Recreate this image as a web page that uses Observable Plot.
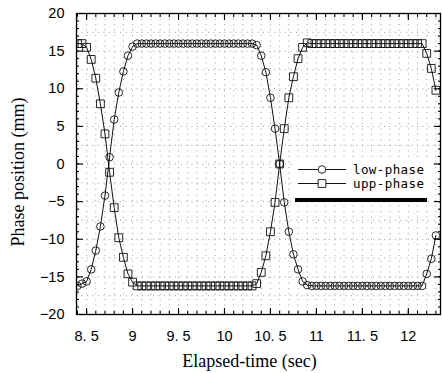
<!DOCTYPE html>
<html><head><meta charset="utf-8">
<script src="https://cdn.jsdelivr.net/npm/d3@7"></script>
<script src="https://cdn.jsdelivr.net/npm/@observablehq/plot@0.6"></script>
<style>
body{margin:0;background:#fff;}
</style></head><body><div id="chart"></div>
<script>
// ---- data ----
const time = [8.40,8.45,8.50,8.55,8.60,8.65,8.70,8.75,8.80,8.85,8.90,8.95,9.00,9.05,9.10,9.15,9.20,9.25,9.30,9.35,9.40,9.45,9.50,9.55,9.60,9.65,9.70,9.75,9.80,9.85,9.90,9.95,10.00,10.05,10.10,10.15,10.20,10.25,10.30,10.35,10.40,10.45,10.50,10.55,10.60,10.65,10.70,10.75,10.80,10.85,10.90,10.95,11.00,11.05,11.10,11.15,11.20,11.25,11.30,11.35,11.40,11.45,11.50,11.55,11.60,11.65,11.70,11.75,11.80,11.85,11.90,11.95,12.00,12.05,12.10,12.15,12.20,12.25,12.30];
const lowPhase = [-16.2,-15.9,-15.6,-14.0,-11.5,-8.3,-4.2,0.9,5.9,9.5,12.3,14.4,15.6,16.0,
  16.0,16.0,16.0,16.0,16.0,16.0,16.0,16.0,16.0,16.0,16.0,16.0,16.0,16.0,16.0,16.0,16.0,16.0,16.0,16.0,16.0,16.0,16.0,16.0,16.0,
  15.8,14.4,12.2,8.8,4.7,0.0,-5.1,-9.0,-12.0,-14.0,-15.6,-16.1,
  -16.2,-16.2,-16.2,-16.2,-16.2,-16.2,-16.2,-16.2,-16.2,-16.2,-16.2,-16.2,-16.2,-16.2,-16.2,-16.2,-16.2,-16.2,-16.2,-16.2,-16.2,-16.2,-16.2,-16.2,-16.2,
  -14.6,-12.6,-9.5];
const uppPhase = [16.0,16.0,15.5,13.9,11.4,8.0,4.0,-1.1,-5.8,-9.8,-12.4,-14.6,-15.7,-16.2,
  -16.2,-16.2,-16.2,-16.2,-16.2,-16.2,-16.2,-16.2,-16.2,-16.2,-16.2,-16.2,-16.2,-16.2,-16.2,-16.2,-16.2,-16.2,-16.2,-16.2,-16.2,-16.2,-16.2,-16.2,-16.2,
  -15.9,-14.4,-12.2,-9.0,-5.1,0.0,4.7,8.8,11.6,14.0,15.5,16.1,
  16.0,16.0,16.0,16.0,16.0,16.0,16.0,16.0,16.0,16.0,16.0,16.0,16.0,16.0,16.0,16.0,16.0,16.0,16.0,16.0,16.0,16.0,16.0,16.0,16.0,
  14.7,12.7,9.8];
const seriesNames = ["low-phase", "upp-phase"];
const xTickLabels = [8.5, 9, 9.5, 10, 10.5, 11, 11.5, 12];
const xMinorTicks = [8.4,8.5,8.6,8.7,8.8,8.9,9.0,9.1,9.2,9.3,9.4,9.5,9.6,9.7,9.8,9.9,10.0,10.1,10.2,10.3,10.4,10.5,10.6,10.7,10.8,10.9,11.0,11.1,11.2,11.3,11.4,11.5,11.6,11.7,11.8,11.9,12.0,12.1,12.2,12.3];
const yTickLabels = [-20,-15,-10,-5,0,5,10,15,20];
const yMinorTicks = [-19,-18,-17,-16,-15,-14,-13,-12,-11,-10,-9,-8,-7,-6,-5,-4,-3,-2,-1,0,1,2,3,4,5,6,7,8,9,10,11,12,13,14,15,16,17,18,19];
const yGrid = [-17.5,-15,-12.5,-10,-7.5,-5,-2.5,0,2.5,5,7.5,10,12.5,15,17.5];
const xTitle = "Elapsed-time (sec)";
const yTitle = "Phase position (mm)";

// ---- build table ----
const rows = [];
time.forEach((t, i) => {
  rows.push({t, v: lowPhase[i], s: seriesNames[0]});
  rows.push({t, v: uppPhase[i], s: seriesNames[1]});
});
const lowRows = rows.filter(d => d.s === seriesNames[0]);
const uppRows = rows.filter(d => d.s === seriesNames[1]);

const fmtX = d => Number.isInteger(d) ? String(d) : String(d).replace(".", ". ");
const fmtY = d => d < 0 ? "\u2212" + Math.abs(d) : String(d);
const blank = () => "";
const INK = "#111";
const tickStyle = {stroke: "#000", strokeWidth: 1.1, label: null, tickFormat: blank};
const sans = "Liberation Sans, Arial, sans-serif";
const serif = "Liberation Serif, Times New Roman, serif";
const gridStyle = {stroke: "#8a8a8a", strokeOpacity: 0.85, strokeWidth: 1, strokeDasharray: "1,4.5"};

const plot = Plot.plot({
  width: 442, height: 373,
  marginLeft: 76, marginRight: 2, marginTop: 13, marginBottom: 59,
  x: {domain: [8.39, 12.35], label: null},
  y: {domain: [-20, 20], label: null},
  style: {fontFamily: sans, fontSize: "14.5px", color: "#000", background: "#fff"},
  marks: [
    Plot.gridX(xMinorTicks, gridStyle),
    Plot.gridY(yGrid, gridStyle),
    Plot.line(rows, {x: "t", y: "v", z: "s", stroke: INK, strokeWidth: 1, clip: true}),
    Plot.dot(lowRows, {x: "t", y: "v", symbol: "circle", r: 3.8, stroke: INK, strokeWidth: 0.9, fill: "none", clip: true}),
    Plot.dot(uppRows, {x: "t", y: "v", symbol: "square", r: 4.4, stroke: INK, strokeWidth: 0.9, fill: "none", clip: true}),
    Plot.frame({stroke: "#000", strokeWidth: 1.3}),
    Plot.axisX(xMinorTicks, {anchor: "bottom", tickSize: -3, ...tickStyle}),
    Plot.axisX(xTickLabels, {anchor: "bottom", tickSize: -6, ...tickStyle}),
    Plot.axisX(xMinorTicks, {anchor: "top", tickSize: -3, ...tickStyle}),
    Plot.axisX(xTickLabels, {anchor: "top", tickSize: -6, ...tickStyle}),
    Plot.axisY(yMinorTicks, {anchor: "left", tickSize: -3, ...tickStyle}),
    Plot.axisY(yTickLabels, {anchor: "left", tickSize: -7, ...tickStyle}),
    Plot.axisY(yMinorTicks, {anchor: "right", tickSize: -3, ...tickStyle}),
    Plot.axisY(yTickLabels, {anchor: "right", tickSize: -7, ...tickStyle}),
    Plot.axisX(xTickLabels, {anchor: "bottom", tickSize: 0, tickPadding: 16, tickFormat: fmtX, label: null, fontSize: 14.5}),
    Plot.axisY(yTickLabels, {anchor: "left", tickSize: 0, tickPadding: 12, tickFormat: fmtY, label: null, fontSize: 14.5}),
    Plot.text([xTitle], {frameAnchor: "bottom", dx: -9, dy: 47, fontFamily: serif, fontSize: 18, lineAnchor: "middle", textAnchor: "middle", fill: "#000"}),
    Plot.text([yTitle], {frameAnchor: "left", rotate: -90, dx: -58, dy: 8, fontFamily: serif, fontSize: 18, lineAnchor: "middle", textAnchor: "middle", fill: "#000"})
  ]
});
document.getElementById("chart").appendChild(plot);

// ---- in-plot legend (layout only) ----
const svg = d3.select(plot);
const lg = svg.append("g").attr("class", "legend");
lg.append("rect").attr("x", 292).attr("y", 160).attr("width", 140).attr("height", 38).attr("fill", "#fff");
const symbols = [d3.symbolCircle, d3.symbolSquare];
const radii = [3.8, 4.4];
seriesNames.forEach((name, i) => {
  const y = 169.5 + i * 14;
  lg.append("line").attr("x1", 298).attr("x2", 346).attr("y1", y).attr("y2", y).attr("stroke", INK).attr("stroke-width", 1);
  lg.append("path").attr("transform", `translate(322,${y})`)
    .attr("d", d3.symbol(symbols[i], Math.PI * radii[i] * radii[i])())
    .attr("fill", "#fff").attr("stroke", INK).attr("stroke-width", 0.9);
  lg.append("text").attr("x", 353).attr("y", y).attr("dy", "0.35em")
    .attr("text-anchor", "start").attr("letter-spacing", 0.4)
    .attr("font-family", "DejaVu Sans Mono, monospace").attr("font-size", 12.5).attr("fill", "#000").text(name);
});
lg.append("rect").attr("x", 295).attr("y", 198).attr("width", 132).attr("height", 4).attr("fill", "#000");
</script></body></html>
